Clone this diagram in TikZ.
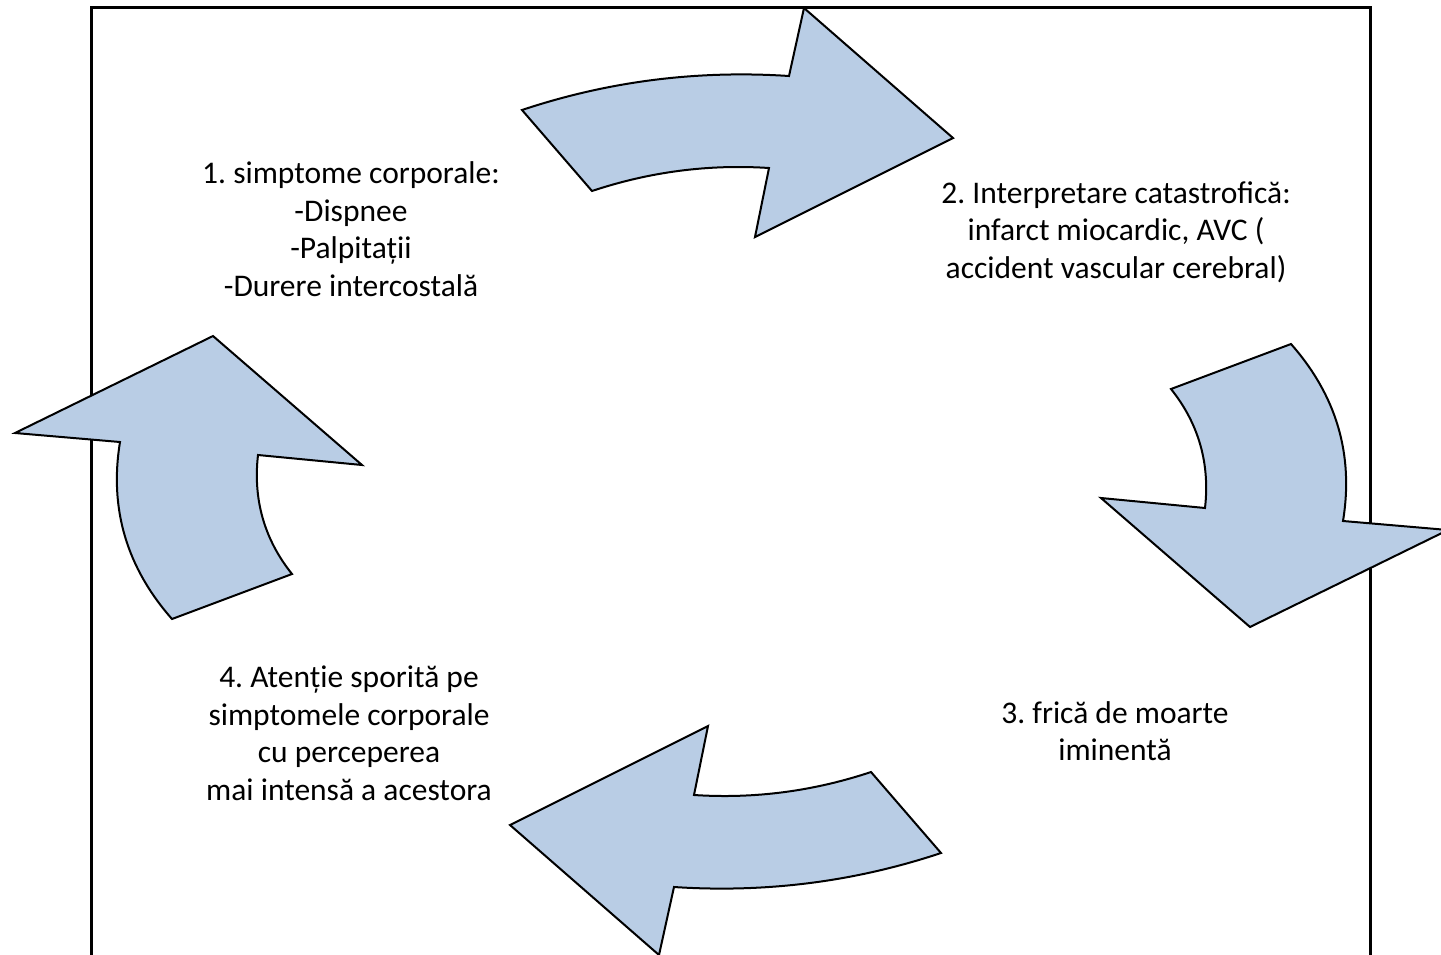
\documentclass[tikz,border=0pt]{standalone}
\usepackage{fontspec}
\setmainfont{Carlito}
\frenchspacing
\definecolor{arrowfill}{RGB}{185,205,229}
\tikzset{
  bigarrow/.style={fill=arrowfill, draw=black, line width=2pt, line join=miter},
  lbl/.style={align=center, font=\fontsize{31.5}{37.5}\selectfont\frenchspacing, inner sep=0pt, anchor=base},
  frameline/.style={draw=black, line width=3pt}
}
\begin{document}
\begin{tikzpicture}[x=1pt,y=-1pt]
\useasboundingbox (0,0) rectangle (1441,954);
% frame
\draw[frameline] (91.5,975) -- (91.5,7.5) -- (1370.5,7.5) -- (1370.5,975);
% arrow 1 (top, to the right)
\path[bigarrow] (522,110) .. controls (609,81) and (698,70) .. (789,76) -- (804,8) -- (953,138) -- (755,237) -- (769,168) .. controls (708,164) and (649,172) .. (592,191) -- cycle;
% arrow 2 (right, downwards)
\path[bigarrow] (1171,389) -- (1291,344) .. controls (1336,395) and (1354,454) .. (1343,521) -- (1448,530) -- (1250,627) -- (1101,498) -- (1205,508) .. controls (1210,464) and (1199,424) .. (1171,389) -- cycle;
% arrow 3 (bottom, to the left)
\path[bigarrow, rotate around={180:(731.5,481.5)}] (522,110) .. controls (609,81) and (698,70) .. (789,76) -- (804,8) -- (953,138) -- (755,237) -- (769,168) .. controls (708,164) and (649,172) .. (592,191) -- cycle;
% arrow 4 (left, upwards)
\path[bigarrow, rotate around={180:(731.5,481.5)}] (1171,389) -- (1291,344) .. controls (1336,395) and (1354,454) .. (1343,521) -- (1448,530) -- (1250,627) -- (1101,498) -- (1205,508) .. controls (1210,464) and (1199,424) .. (1171,389) -- cycle;
% labels (anchored at the baseline of their last line)
\node[lbl] (t1) at (351,296) {1. simptome corporale:\\-Dispnee\\-Palpitații\\-Durere intercostală};
\node[lbl] (t2) at (1116,278) {2. Interpretare catastrofică:\\infarct miocardic, AVC (\\accident vascular cerebral)};
\node[lbl] (t3) at (1115,760.5) {3. frică de moarte\\iminentă};
\node[lbl] (t4) at (349,800) {4. Atenție sporită pe\\simptomele corporale\\cu perceperea\\mai intensă a acestora};
\end{tikzpicture}
\end{document}
